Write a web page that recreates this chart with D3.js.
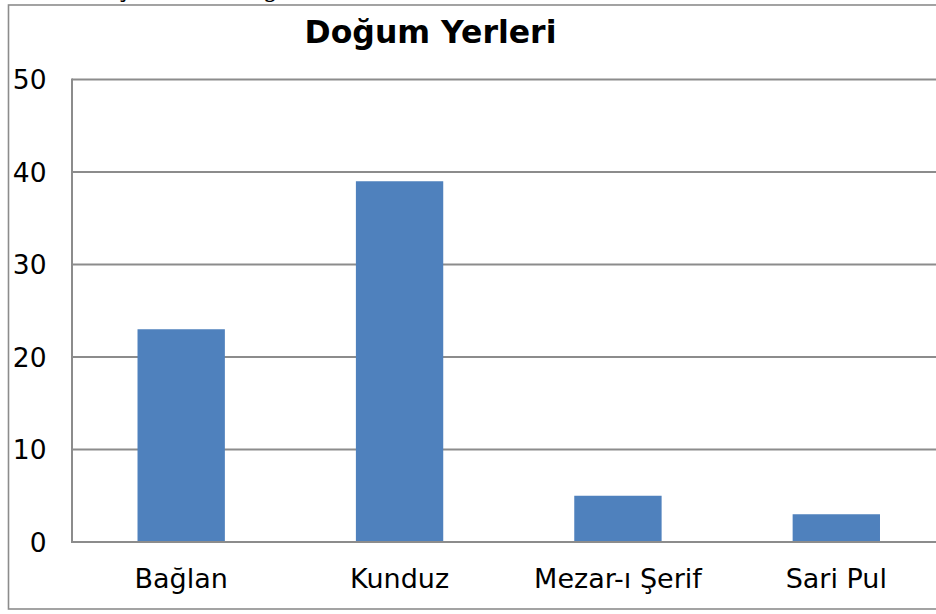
<!DOCTYPE html>
<html>
<head>
<meta charset="utf-8">
<script src="https://cdn.jsdelivr.net/npm/d3@7"></script>
<style>
  body { margin: 0; background: #fff; }
  svg { display: block; }
</style>
</head>
<body>
<div id="chart"></div>
<script>
const categories = ["Bağlan", "Kunduz", "Mezar-ı Şerif", "Sari Pul"];
const values = [23, 39, 5, 3];
const yTicks = [0, 10, 20, 30, 40, 50];
const title = "Doğum Yerleri";

const width = 936, height = 614;
const plot = { left: 72, right: 945.5, top: 79.5, bottom: 542 };
const grid_color = "#8c8c8c";
const bar_color = "#4f81bd";

const svg = d3.select("#chart").append("svg")
  .attr("width", width)
  .attr("height", height);

// bits of page text cut off above the chart frame
svg.append("text")
  .attr("x", 116).attr("y", -3)
  .style("font-family", "DejaVu Serif").style("font-size", "24px")
  .text("ç");
svg.append("text")
  .attr("x", 263).attr("y", -3)
  .style("font-family", "DejaVu Serif").style("font-size", "24px")
  .text("g");

// chart frame
svg.append("rect")
  .attr("x", 8.5).attr("y", 5)
  .attr("width", 960).attr("height", 604)
  .attr("fill", "#fff")
  .attr("stroke", grid_color)
  .attr("stroke-width", 1.6);

const x = d3.scaleBand()
  .domain(categories)
  .range([plot.left, plot.right])
  .paddingInner(0.6)
  .paddingOuter(0.3);

const y = d3.scaleLinear()
  .domain([0, 50])
  .range([plot.bottom, plot.top]);

// gridlines
svg.append("g")
  .selectAll("line")
  .data(yTicks.filter(d => d > 0))
  .join("line")
  .attr("x1", plot.left).attr("x2", width + 10)
  .attr("y1", d => y(d)).attr("y2", d => y(d))
  .attr("stroke", grid_color)
  .attr("stroke-width", 2);

// bars
svg.append("g")
  .selectAll("rect")
  .data(categories)
  .join("rect")
  .attr("x", d => x(d))
  .attr("width", x.bandwidth())
  .attr("y", (d, i) => y(values[i]))
  .attr("height", (d, i) => y(0) - y(values[i]))
  .attr("fill", bar_color);

// axes lines
svg.append("line")
  .attr("x1", plot.left).attr("x2", plot.left)
  .attr("y1", plot.top - 1).attr("y2", plot.bottom)
  .attr("stroke", grid_color).attr("stroke-width", 2);
svg.append("line")
  .attr("x1", plot.left - 1).attr("x2", width + 10)
  .attr("y1", plot.bottom).attr("y2", plot.bottom)
  .attr("stroke", grid_color).attr("stroke-width", 2);

// y tick labels
svg.append("g")
  .selectAll("text")
  .data(yTicks)
  .join("text")
  .attr("x", 46.5)
  .attr("y", d => y(d))
  .attr("dy", "0.36em")
  .attr("text-anchor", "end")
  .style("font-family", "DejaVu Sans")
  .style("font-size", "26.5px")
  .text(d => d);

// category labels
svg.append("g")
  .selectAll("text")
  .data(categories)
  .join("text")
  .attr("x", d => x(d) + x.bandwidth() / 2)
  .attr("y", 588)
  .attr("text-anchor", "middle")
  .style("font-family", "DejaVu Sans")
  .style("font-size", "27px")
  .text(d => d);

svg.append("text")
  .attr("x", 430.5)
  .attr("y", 43)
  .attr("text-anchor", "middle")
  .style("font-family", "DejaVu Sans")
  .style("font-weight", "bold")
  .style("font-size", "31.5px")
  .text(title);
</script>
</body>
</html>
